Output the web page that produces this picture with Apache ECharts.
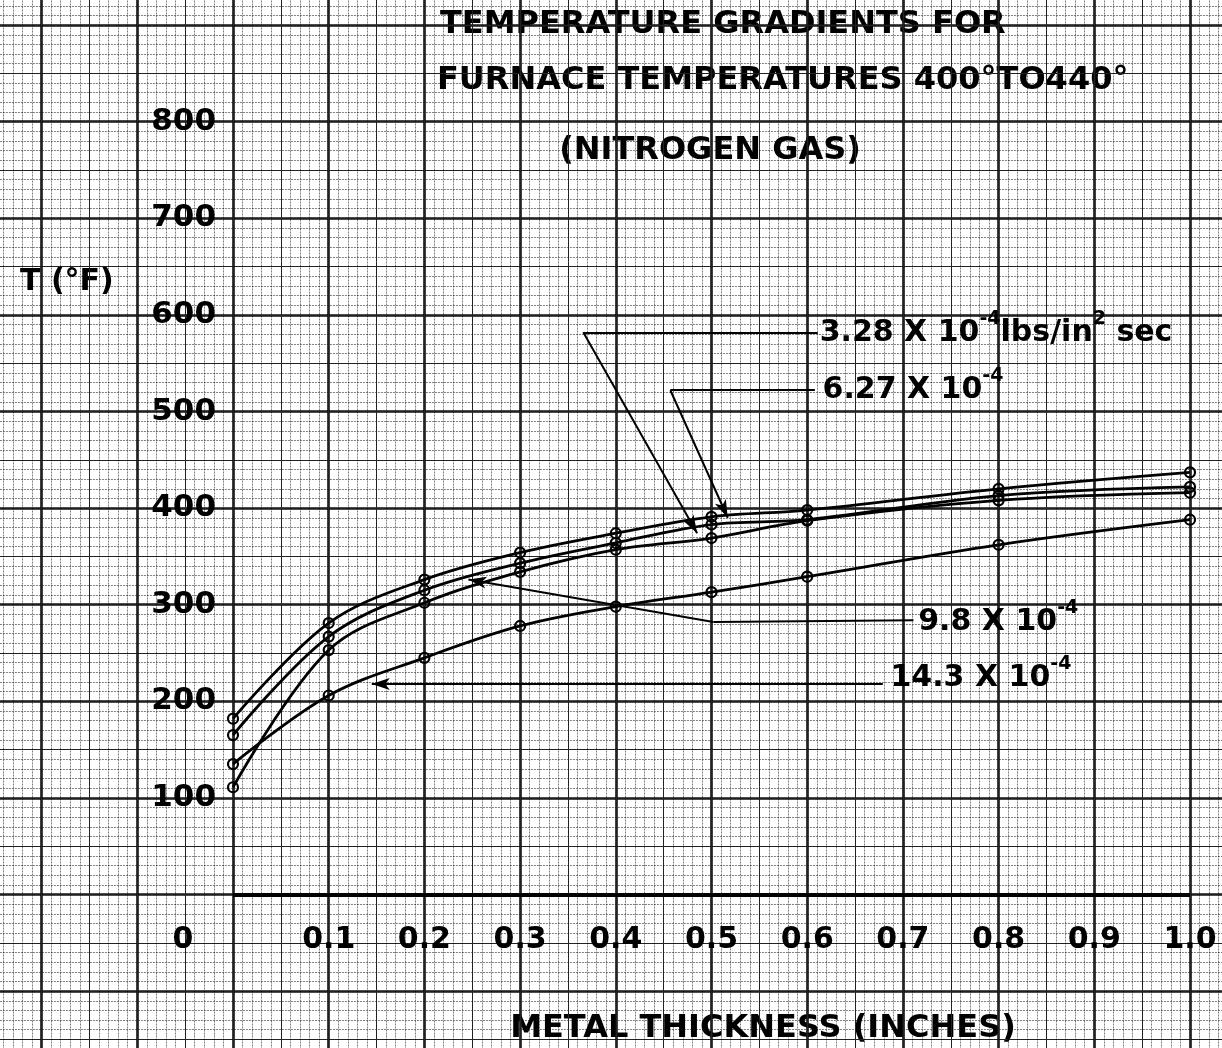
<!DOCTYPE html>
<html>
<head>
<meta charset="utf-8">
<title>Temperature gradients for furnace temperatures 400° to 440° (nitrogen gas)</title>
<script src="https://cdn.jsdelivr.net/npm/echarts@6/dist/echarts.min.js"></script>
<style>
  html, body { margin: 0; padding: 0; background: #fff; }
  #chart { width: 1222px; height: 1048px; }
</style>
</head>
<body>
<div id="chart"></div>
<script>
// Metal thickness (inches) at which temperatures were measured
const thickness = [0, 0.1, 0.2, 0.3, 0.4, 0.5, 0.6, 0.8, 1.0];

// Temperature T (°F) for each nitrogen mass flow rate (lbs/in² sec)
const flow627 = [182, 281, 326, 354, 374, 391, 398, 420, 437];
const flow98  = [165, 267, 315, 343, 364, 383, 388, 413, 422];
const flow328 = [111, 253, 302, 334, 357, 369, 387, 408, 416];
const flow143 = [135, 206, 245, 278, 298, 313, 329, 362, 388];

// Tick labels
const xTickLabels = ['0', '0.1', '0.2', '0.3', '0.4', '0.5', '0.6', '0.7', '0.8', '0.9', '1.0'];
const yTickLabels = ['100', '200', '300', '400', '500', '600', '700', '800'];

// Leader lines from each curve label: label end -> bend -> arrow tip (data coordinates)
const leader328 = [[0.611, 582], [0.366, 582], [0.485, 374]];
const leader627 = [[0.608, 522], [0.457, 522], [0.517, 390]];
const leader98  = [[0.711, 284], [0.502, 282], [0.246, 326]];
const leader143 = [[0.679, 218], [0.145, 218]];

// Where each curve label starts (left edge, vertical centre)
const labelAt328 = [0.613, 581];
const labelAt627 = [0.616, 522];
const labelAt98  = [0.716, 282];
const labelAt143 = [0.687, 224];

// ---- layout: the whole sheet is ruled graph paper; the data origin sits at (233, 894.5) px
const W = 1222, H = 1048;
const ORIGIN_X = 233, ORIGIN_Y = 894.5;
const PX_PER_X = 957;      // pixels per inch of thickness
const PX_PER_Y = 0.966;    // pixels per °F
const X_MIN = -0.3, X_MAX = 1.1, Y_MIN = -200, Y_MAX = 1000;
const gridLeft = ORIGIN_X + X_MIN * PX_PER_X;
const gridWidth = (X_MAX - X_MIN) * PX_PER_X;
const gridTop = ORIGIN_Y - Y_MAX * PX_PER_Y;
const gridHeight = (Y_MAX - Y_MIN) * PX_PER_Y;
// Pull the axes in from the grid edges so they sit on the zero lines
const yAxisOffset = -(ORIGIN_X - gridLeft);
const xAxisOffset = -(gridTop + gridHeight - ORIGIN_Y);

const FONT = '"DejaVu Sans", "Liberation Sans", sans-serif';
const INK = '#000';

const majorLine = { show: true, lineStyle: { color: '#111', width: 2.6 } };
const mediumLine = { show: true, lineStyle: { color: '#222', width: 1 } };
const minorLine = { show: true, lineStyle: { color: '#000', width: 1, type: [2, 1], opacity: 0.5 } };
const hiddenAxisLine = { show: false, onZero: false };

function pairs(ys) { return thickness.map((x, i) => [x, ys[i]]); }

function leaderSegments(points) {
  const segs = [];
  for (let i = 0; i < points.length - 1; i++) {
    const last = i === points.length - 2;
    segs.push([
      { coord: points[i], symbol: 'none' },
      { coord: points[i + 1], symbol: last ? 'arrow' : 'none' }
    ]);
  }
  return segs;
}

const labelRich = {
  m: { fontFamily: FONT, fontWeight: 'bold', fontSize: 30, color: INK, lineHeight: 48 },
  s: { fontFamily: FONT, fontWeight: 'bold', fontSize: 19, color: INK, verticalAlign: 'top' }
};

function curveLabel(coord, text) {
  return {
    coord: coord,
    symbol: 'circle',
    symbolSize: 0.01,
    itemStyle: { color: 'rgba(0,0,0,0)' },
    label: { show: true, position: 'right', distance: 0, formatter: text, rich: labelRich }
  };
}

function curve(name, ys, leader, labelCoord, labelText, extraLines) {
  const lines = leaderSegments(leader);
  return {
    name: name,
    type: 'line',
    xAxisIndex: 0,
    yAxisIndex: 0,
    data: pairs(ys),
    smooth: 0.35,
    symbol: 'circle',
    symbolSize: 10,
    lineStyle: { color: INK, width: 2.8 },
    itemStyle: { color: 'rgba(0,0,0,0)', borderColor: INK, borderWidth: 2.2 },
    emphasis: { disabled: true },
    silent: true,
    z: 5,
    markLine: {
      silent: true,
      symbol: ['none', 'none'],
      symbolSize: [9, 18],
      lineStyle: { color: INK, width: 2, type: 'solid' },
      label: { show: false },
      emphasis: { disabled: true },
      data: lines.concat(extraLines || [])
    },
    markPoint: {
      silent: true,
      data: [curveLabel(labelCoord, labelText)]
    }
  };
}

// Heavy axis line along T = 0 from 0 to 1.0 inch
const axisLineSeg = [[
  { coord: [0, 0], symbol: 'none', lineStyle: { color: INK, width: 4, type: 'solid' } },
  { coord: [1.0, 0], symbol: 'none' }
]];

const option = {
  backgroundColor: '#fff',
  animation: false,
  grid: {
    left: gridLeft,
    top: gridTop,
    width: gridWidth,
    height: gridHeight,
    containLabel: false,
    outerBoundsMode: 'none'
  },
  xAxis: [
    {
      type: 'value',
      position: 'bottom',
      offset: xAxisOffset,
      min: X_MIN,
      max: X_MAX,
      interval: 0.1,
      axisLine: hiddenAxisLine,
      axisTick: { show: false },
      splitLine: majorLine,
      minorTick: { show: false, splitNumber: 10 },
      minorSplitLine: minorLine,
      axisLabel: {
        show: true,
        margin: 31,
        fontFamily: FONT,
        fontWeight: 'bold',
        fontSize: 30,
        color: INK,
        showMinLabel: true,
        showMaxLabel: true,
        hideOverlap: false,
        formatter: function (v) {
          const i = Math.round(v * 10);
          if (i < 0 || i >= xTickLabels.length) return '';
          return i === 0 ? '{z|' + xTickLabels[i] + '}' : xTickLabels[i];
        },
        rich: {
          z: { fontFamily: FONT, fontWeight: 'bold', fontSize: 30, color: INK, padding: [0, 100, 0, 0] }
        }
      }
    },
    {
      type: 'value',
      min: X_MIN,
      max: X_MAX,
      interval: 0.05,
      axisLine: { show: false, onZero: false },
      axisTick: { show: false },
      axisLabel: { show: false },
      splitLine: mediumLine
    }
  ],
  yAxis: [
    {
      type: 'value',
      position: 'left',
      offset: yAxisOffset,
      min: Y_MIN,
      max: Y_MAX,
      interval: 100,
      axisLine: hiddenAxisLine,
      axisTick: { show: false },
      splitLine: majorLine,
      minorTick: { show: false, splitNumber: 10 },
      minorSplitLine: minorLine,
      axisLabel: {
        show: true,
        margin: 17,
        fontFamily: FONT,
        fontWeight: 'bold',
        fontSize: 31,
        color: INK,
        showMinLabel: true,
        showMaxLabel: true,
        hideOverlap: false,
        formatter: function (v) {
          const i = Math.round(v / 100) - 1;
          return (i >= 0 && i < yTickLabels.length) ? yTickLabels[i] : '';
        }
      }
    },
    {
      type: 'value',
      position: 'right',
      min: Y_MIN,
      max: Y_MAX,
      interval: 50,
      axisLine: { show: false, onZero: false },
      axisTick: { show: false },
      axisLabel: { show: false },
      splitLine: mediumLine
    }
  ],
  graphic: [
    { type: 'text', x: 440, y: 25, silent: true,
      style: { text: 'TEMPERATURE GRADIENTS FOR', fill: INK, font: 'bold 32px ' + FONT, align: 'left', verticalAlign: 'middle' } },
    { type: 'text', x: 437, y: 81, silent: true,
      style: { text: 'FURNACE TEMPERATURES 400°TO440°', fill: INK, font: 'bold 32px ' + FONT, align: 'left', verticalAlign: 'middle' } },
    { type: 'text', x: 710, y: 151, silent: true,
      style: { text: '(NITROGEN GAS)', fill: INK, font: 'bold 32px ' + FONT, align: 'center', verticalAlign: 'middle' } },
    { type: 'text', x: 20, y: 282, silent: true,
      style: { text: 'T (°F)', fill: INK, font: 'bold 30px ' + FONT, align: 'left', verticalAlign: 'middle' } },
    { type: 'text', x: 763, y: 1029, silent: true,
      style: { text: 'METAL THICKNESS (INCHES)', fill: INK, font: 'bold 32px ' + FONT, align: 'center', verticalAlign: 'middle' } }
  ],
  series: [
    curve('6.27 X 10-4', flow627, leader627, labelAt627, '{m|6.27 X 10}{s|-4}', axisLineSeg),
    curve('9.8 X 10-4', flow98, leader98, labelAt98, '{m|9.8 X 10}{s|-4}'),
    curve('3.28 X 10-4 lbs/in2 sec', flow328, leader328, labelAt328, '{m|3.28 X 10}{s|-4}{m|lbs/in}{s|2}{m| sec}'),
    curve('14.3 X 10-4', flow143, leader143, labelAt143, '{m|14.3 X 10}{s|-4}')
  ]
};

const chart = echarts.init(document.getElementById('chart'), null, { renderer: 'canvas', width: W, height: H });
chart.setOption(option);
</script>
</body>
</html>
